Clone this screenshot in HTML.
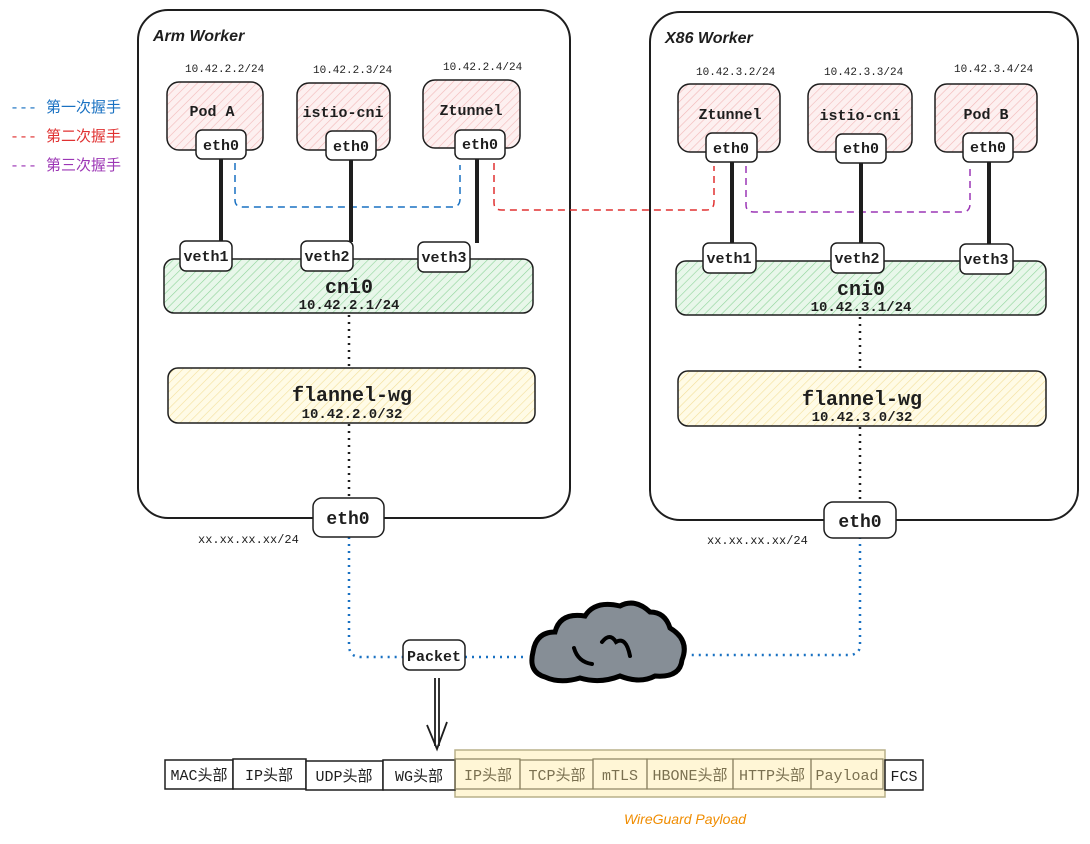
<!DOCTYPE html>
<html><head><meta charset="utf-8"><style>
body{margin:0;background:#fff}
text{font-family:"Liberation Mono","Noto Sans CJK SC",monospace;fill:#1e1e1e}
.b{font-weight:bold}
</style></head><body>
<svg width="1090" height="839" viewBox="0 0 1090 839" xmlns="http://www.w3.org/2000/svg">
<defs>
<pattern id="red" width="6" height="6" patternUnits="userSpaceOnUse" patternTransform="rotate(45)"><rect width="6" height="6" fill="#fdf0f0"/><line x1="0" y1="0" x2="0" y2="6" stroke="#f2b8b8" stroke-width="1.2"/></pattern>
<pattern id="grn" width="6" height="6" patternUnits="userSpaceOnUse" patternTransform="rotate(45)"><rect width="6" height="6" fill="#e8f7ea"/><line x1="0" y1="0" x2="0" y2="6" stroke="#8fd49a" stroke-width="1.2"/></pattern>
<pattern id="yel" width="6" height="6" patternUnits="userSpaceOnUse" patternTransform="rotate(45)"><rect width="6" height="6" fill="#fffbe6"/><line x1="0" y1="0" x2="0" y2="6" stroke="#f3df9a" stroke-width="1.2"/></pattern>
</defs>
<!-- legend -->
<text x="10" y="112" font-size="15" style="fill:#1971c2">--- 第一次握手</text>
<text x="10" y="141" font-size="15" style="fill:#e03131">--- 第二次握手</text>
<text x="10" y="170" font-size="15" style="fill:#9c36b5">--- 第三次握手</text>

<rect x="138" y="10" width="432" height="508" rx="30" fill="none" stroke="#1e1e1e" stroke-width="2"/>
<rect x="650" y="12" width="428" height="508" rx="30" fill="none" stroke="#1e1e1e" stroke-width="2"/>
<text x="153" y="41" font-size="16" font-style="italic" font-weight="bold" style="font-family:'Liberation Sans',sans-serif">Arm Worker</text>
<text x="665" y="43" font-size="16" font-style="italic" font-weight="bold" style="font-family:'Liberation Sans',sans-serif">X86 Worker</text>

<g font-size="11">
<text x="185" y="72">10.42.2.2/24</text><text x="313" y="73">10.42.2.3/24</text><text x="443" y="70">10.42.2.4/24</text>
<text x="696" y="75">10.42.3.2/24</text><text x="824" y="75">10.42.3.3/24</text><text x="954" y="72">10.42.3.4/24</text>
</g>

<path d="M235 163 V200 Q235 207 243 207 H452 Q460 207 460 199 V165" fill="none" stroke="#1971c2" stroke-width="1.5" stroke-dasharray="7 5"/>
<path d="M494 163 V203 Q494 210 502 210 H706 Q714 210 714 202 V166" fill="none" stroke="#e03131" stroke-width="1.5" stroke-dasharray="7 5"/>
<path d="M746 166 V205 Q746 212 754 212 H962 Q970 212 970 204 V168" fill="none" stroke="#9c36b5" stroke-width="1.5" stroke-dasharray="7 5"/>

<g stroke="#1e1e1e" stroke-width="4">
<line x1="221" y1="158" x2="221" y2="242"/><line x1="351" y1="160" x2="351" y2="242"/><line x1="477" y1="158" x2="477" y2="243"/>
<line x1="732" y1="162" x2="732" y2="244"/><line x1="861" y1="162" x2="861" y2="244"/><line x1="989" y1="162" x2="989" y2="245"/>
</g>

<g stroke="#1e1e1e" stroke-width="1.5" fill="url(#red)">
<rect x="167" y="82" width="96" height="68" rx="12"/><rect x="297" y="83" width="93" height="67" rx="12"/><rect x="423" y="80" width="97" height="68" rx="12"/>
<rect x="678" y="84" width="102" height="68" rx="12"/><rect x="808" y="84" width="104" height="68" rx="12"/><rect x="935" y="84" width="102" height="68" rx="12"/>
</g>
<g font-size="15" text-anchor="middle" class="b">
<text x="212" y="116">Pod A</text>
<text x="343" y="117">istio-cni</text><text x="471" y="115">Ztunnel</text>
<text x="730" y="119">Ztunnel</text><text x="860" y="120">istio-cni</text><text x="986" y="119">Pod B</text>
</g>

<g stroke="#1e1e1e" stroke-width="1.5" fill="#fff">
<rect x="196" y="130" width="50" height="29" rx="6"/><rect x="326" y="131" width="50" height="29" rx="6"/><rect x="455" y="130" width="50" height="29" rx="6"/>
<rect x="706" y="133" width="51" height="29" rx="6"/><rect x="836" y="134" width="50" height="29" rx="6"/><rect x="963" y="133" width="50" height="29" rx="6"/>
</g>
<g font-size="15" text-anchor="middle" class="b">
<text x="221" y="150">eth0</text><text x="351" y="151">eth0</text><text x="480" y="149">eth0</text>
<text x="731" y="153">eth0</text><text x="861" y="153">eth0</text><text x="988" y="152">eth0</text>
</g>

<rect x="164" y="259" width="369" height="54" rx="10" fill="url(#grn)" stroke="#1e1e1e" stroke-width="1.5"/>
<rect x="676" y="261" width="370" height="54" rx="10" fill="url(#grn)" stroke="#1e1e1e" stroke-width="1.5"/>
<g stroke="#1e1e1e" stroke-width="1.5" fill="#fff">
<rect x="180" y="241" width="52" height="30" rx="6"/><rect x="301" y="241" width="52" height="30" rx="6"/><rect x="418" y="242" width="52" height="30" rx="6"/>
<rect x="703" y="243" width="53" height="30" rx="6"/><rect x="831" y="243" width="53" height="30" rx="6"/><rect x="960" y="244" width="53" height="30" rx="6"/>
</g>
<g font-size="15" text-anchor="middle" class="b">
<text x="206" y="261">veth1</text><text x="327" y="261">veth2</text><text x="444" y="262">veth3</text>
<text x="729" y="263">veth1</text><text x="857" y="263">veth2</text><text x="986" y="264">veth3</text>
</g>
<text x="349" y="293" font-size="20" text-anchor="middle" class="b">cni0</text>
<text x="349" y="309" font-size="14" text-anchor="middle" class="b">10.42.2.1/24</text>
<text x="861" y="295" font-size="20" text-anchor="middle" class="b">cni0</text>
<text x="861" y="311" font-size="14" text-anchor="middle" class="b">10.42.3.1/24</text>

<g stroke="#1e1e1e" stroke-width="2.5" stroke-dasharray="2 5">
<line x1="349" y1="315" x2="349" y2="368"/><line x1="349" y1="424" x2="349" y2="498"/>
<line x1="860" y1="317" x2="860" y2="371"/><line x1="860" y1="427" x2="860" y2="502"/>
</g>

<rect x="168" y="368" width="367" height="55" rx="10" fill="url(#yel)" stroke="#1e1e1e" stroke-width="1.5"/>
<rect x="678" y="371" width="368" height="55" rx="10" fill="url(#yel)" stroke="#1e1e1e" stroke-width="1.5"/>
<text x="352" y="401" font-size="20" text-anchor="middle" class="b">flannel-wg</text>
<text x="352" y="418" font-size="14" text-anchor="middle" class="b">10.42.2.0/32</text>
<text x="862" y="405" font-size="20" text-anchor="middle" class="b">flannel-wg</text>
<text x="862" y="421" font-size="14" text-anchor="middle" class="b">10.42.3.0/32</text>

<path d="M349 537 V645 Q349 657 361 657 H403" fill="none" stroke="#1971c2" stroke-width="2.5" stroke-dasharray="2 5"/>
<path d="M465 657 H525" fill="none" stroke="#1971c2" stroke-width="2.5" stroke-dasharray="2 5"/>
<path d="M860 537 V645 Q860 655 848 655 H688" fill="none" stroke="#1971c2" stroke-width="2.5" stroke-dasharray="2 5"/>
<rect x="313" y="498" width="71" height="39" rx="9" fill="#fff" stroke="#1e1e1e" stroke-width="1.5"/>
<rect x="824" y="502" width="72" height="36" rx="9" fill="#fff" stroke="#1e1e1e" stroke-width="1.5"/>
<text x="348" y="524" font-size="18" text-anchor="middle" class="b">eth0</text>
<text x="860" y="527" font-size="18" text-anchor="middle" class="b">eth0</text>
<text x="198" y="543" font-size="12">xx.xx.xx.xx/24</text>
<text x="707" y="544" font-size="12">xx.xx.xx.xx/24</text>

<rect x="403" y="640" width="62" height="30" rx="7" fill="#fff" stroke="#1e1e1e" stroke-width="1.5"/>
<text x="434" y="661" font-size="15" text-anchor="middle" class="b">Packet</text>

<path d="M545 677 Q528 672 533 652 Q536 632 555 632 Q560 612 585 616 Q595 600 620 606 Q635 598 650 612 Q665 612 670 628 Q690 640 682 660 Q680 678 655 676 Q640 684 620 676 Q600 684 580 678 Q560 684 545 677 Z" fill="#868e96" stroke="#000" stroke-width="5"/>
<path d="M574 648 Q578 662 592 664" fill="none" stroke="#000" stroke-width="4" stroke-linecap="round"/>
<path d="M602 642 Q610 632 616 642 Q626 636 630 656" fill="none" stroke="#000" stroke-width="4" stroke-linecap="round"/>

<g stroke="#1e1e1e" stroke-width="1.8" fill="none">
<line x1="435" y1="678" x2="435" y2="746"/><line x1="439" y1="678" x2="439" y2="746"/>
<path d="M427 725 L437 749 L447 722"/>
</g>

<rect x="455" y="750" width="430" height="47" fill="#fff6d6" stroke="#b8b08a" stroke-width="1.5"/>
<g stroke="#1e1e1e" stroke-width="1.5" fill="#fff">
<rect x="165" y="760" width="68" height="29"/><rect x="233" y="759" width="73" height="30"/><rect x="306" y="761" width="77" height="29"/><rect x="383" y="760" width="72" height="30"/><rect x="885" y="760" width="38" height="30"/>
</g>
<g stroke="#8a8260" stroke-width="1.2" fill="none">
<rect x="455" y="759" width="65" height="30"/><rect x="520" y="760" width="73" height="29"/><rect x="593" y="759" width="54" height="30"/><rect x="647" y="759" width="86" height="30"/><rect x="733" y="759" width="78" height="30"/><rect x="811" y="759" width="72" height="30"/>
</g>
<g font-size="15" text-anchor="middle" style="font-family:'Liberation Sans','Noto Sans CJK SC',sans-serif">
<text x="199" y="780">MAC头部</text><text x="269" y="780">IP头部</text><text x="344" y="781">UDP头部</text><text x="419" y="781">WG头部</text>
<text x="904" y="781">FCS</text>
</g>
<g font-size="15" text-anchor="middle">
<text x="488" y="780" style="fill:#7a7050">IP头部</text><text x="557" y="780" style="fill:#7a7050">TCP头部</text><text x="620" y="780" style="fill:#7a7050">mTLS</text><text x="690" y="780" style="fill:#7a7050">HBONE头部</text><text x="772" y="780" style="fill:#7a7050">HTTP头部</text><text x="847" y="780" style="fill:#7a7050">Payload</text>
</g>
<text x="685" y="824" font-size="14" text-anchor="middle" font-style="italic" style="fill:#f08c00;font-family:'Liberation Sans',sans-serif">WireGuard Payload</text>
</svg>
</body></html>
